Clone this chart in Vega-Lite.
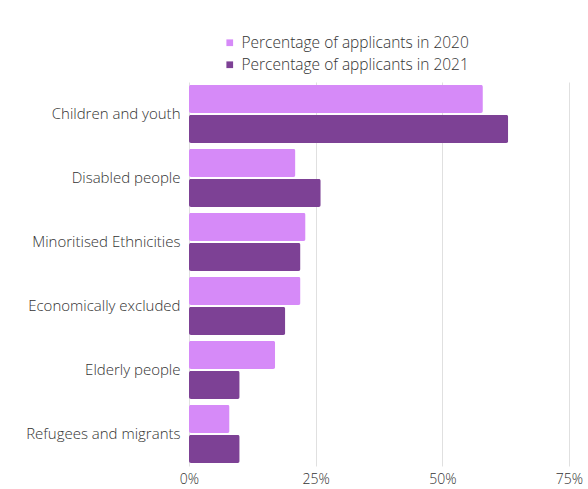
{
  "$schema": "https://vega.github.io/schema/vega-lite/v6.json",
  "autosize": {"type": "none"},
  "padding": {"left": 189, "top": 82, "right": 19, "bottom": 23},
  "width": 380,
  "height": 384,
  "background": "white",
  "config": {"view": {"stroke": null}, "font": "Open Sans"},
  "data": {"values": [
    {"group": "Children and youth", "series": "Percentage of applicants in 2020", "value": 58},
    {"group": "Children and youth", "series": "Percentage of applicants in 2021", "value": 63},
    {"group": "Disabled people", "series": "Percentage of applicants in 2020", "value": 21},
    {"group": "Disabled people", "series": "Percentage of applicants in 2021", "value": 26},
    {"group": "Minoritised Ethnicities", "series": "Percentage of applicants in 2020", "value": 23},
    {"group": "Minoritised Ethnicities", "series": "Percentage of applicants in 2021", "value": 22},
    {"group": "Economically excluded", "series": "Percentage of applicants in 2020", "value": 22},
    {"group": "Economically excluded", "series": "Percentage of applicants in 2021", "value": 19},
    {"group": "Elderly people", "series": "Percentage of applicants in 2020", "value": 17},
    {"group": "Elderly people", "series": "Percentage of applicants in 2021", "value": 10},
    {"group": "Refugees and migrants", "series": "Percentage of applicants in 2020", "value": 8},
    {"group": "Refugees and migrants", "series": "Percentage of applicants in 2021", "value": 10}
  ]},
  "mark": {"type": "bar", "cornerRadius": 2},
  "encoding": {
    "y": {
      "field": "group", "type": "nominal", "sort": null, "title": null,
      "scale": {"paddingInner": 0.09, "paddingOuter": 0.045},
      "axis": {"domain": false, "ticks": false, "labelPadding": 9, "labelFontSize": 15, "labelFontWeight": 300, "labelColor": "#333", "labelFont": "Open Sans", "labelLimit": 0}
    },
    "yOffset": {"field": "series", "type": "nominal", "scale": {"paddingInner": 0.06}},
    "x": {
      "field": "value", "type": "quantitative", "title": null,
      "scale": {"domain": [0, 75]},
      "axis": {"values": [0, 25, 50, 75], "labelExpr": "datum.value + '%'", "labelFlush": false, "domain": false, "ticks": false, "gridColor": "#e0e0e0", "labelPadding": 6, "labelFontSize": 14, "labelFontWeight": 300, "labelColor": "#333", "labelFont": "Open Sans"}
    },
    "color": {
      "field": "series", "type": "nominal", "title": null,
      "scale": {"range": ["#d68af8", "#7d4195"]},
      "legend": {"orient": "none", "legendX": 33, "legendY": -47, "symbolType": "square", "symbolSize": 45, "labelFontSize": 15.5, "labelFontWeight": 300, "labelColor": "#333", "labelFont": "Open Sans", "labelLimit": 0, "labelOffset": 4, "rowPadding": 5}
    }
  }
}
